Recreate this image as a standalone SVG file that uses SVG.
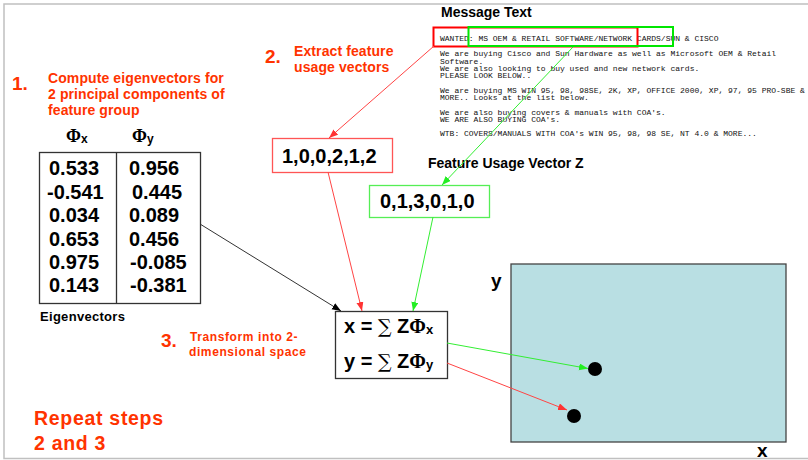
<svg xmlns="http://www.w3.org/2000/svg" width="808" height="460" viewBox="0 0 808 460">
<style>
.b{font-family:"Liberation Sans",Arial,sans-serif;font-weight:bold}
.red{fill:#ff3300}
.step{font-size:14px;letter-spacing:0.1px}
.num{font-size:19px}
.mono{font-family:"Liberation Mono","Courier New",monospace;font-size:8px;fill:#111}
.val{font-family:"Liberation Sans",Arial,sans-serif;font-weight:bold;font-size:20px;fill:#000}
.phi{font-family:"Liberation Serif","Times New Roman",serif;font-weight:bold}
.conn{fill:none;stroke-width:1}
</style>
<defs>
<marker id="ar" markerUnits="userSpaceOnUse" markerWidth="10" markerHeight="8" refX="9" refY="3.5" orient="auto"><path d="M0,0 L9,3.5 L0,7 z" fill="#ff3333"/></marker>
<marker id="ag" markerUnits="userSpaceOnUse" markerWidth="10" markerHeight="8" refX="9" refY="3.5" orient="auto"><path d="M0,0 L9,3.5 L0,7 z" fill="#22ee22"/></marker>
<marker id="ak" markerUnits="userSpaceOnUse" markerWidth="10" markerHeight="8" refX="9" refY="3.5" orient="auto"><path d="M0,0 L9,3.5 L0,7 z" fill="#000"/></marker>
</defs>
<rect x="0" y="0" width="808" height="460" fill="#fff"/>
<path d="M812,4 H4 V458.5 H812" fill="none" stroke="#c0c0c0" stroke-width="1.5"/>

<g id="message">
<text class="b" x="441" y="17" font-size="14" fill="#000">Message Text</text>
<text class="mono" x="440" y="41">WANTED: MS OEM &amp; RETAIL SOFTWARE/NETWORK CARDS/SUN &amp; CISCO</text>
<text class="mono" x="440" y="56">We are buying Cisco and Sun Hardware as well as Microsoft OEM &amp; Retail</text>
<text class="mono" x="440" y="63.5">Software.</text>
<text class="mono" x="440" y="71">We are also looking to buy used and new network cards.</text>
<text class="mono" x="440" y="78">PLEASE LOOK BELOW..</text>
<text class="mono" x="440" y="93">We are buying MS WIN 95, 98, 98SE, 2K, XP, OFFICE 2000, XP, 97, 95 PRO-SBE &amp;</text>
<text class="mono" x="440" y="100">MORE.. Looks at the list below.</text>
<text class="mono" x="440" y="115">We are also buying covers &amp; manuals with COA's.</text>
<text class="mono" x="440" y="122">WE ARE ALSO BUYING COA's.</text>
<text class="mono" x="440" y="136">WTB: COVERS/MANUALS WITH COA's WIN 95, 98, 98 SE, NT 4.0 &amp; MORE...</text>
<rect x="433.5" y="27.5" width="204" height="19" fill="none" stroke="#ff0000" stroke-width="2"/>
<rect x="468.5" y="27" width="204.5" height="19" fill="none" stroke="#00e600" stroke-width="2"/>
</g>

<g id="step1">
<text class="b red num" x="12" y="90">1.</text>
<text class="b red step" x="48" y="83">Compute eigenvectors for</text>
<text class="b red step" x="48" y="99">2 principal components of</text>
<text class="b red step" x="48" y="115">feature group</text>
</g>

<g id="eigen-table">
<text x="66" y="142"><tspan class="phi" font-size="18">Φ</tspan><tspan class="b" font-size="12" dy="1">x</tspan></text>
<text x="132" y="142"><tspan class="phi" font-size="18">Φ</tspan><tspan class="b" font-size="12" dy="1">y</tspan></text>
<rect x="39.5" y="152.5" width="161" height="151" fill="#fff" stroke="#333" stroke-width="1.3"/>
<line x1="116.5" y1="152.5" x2="116.5" y2="303.5" stroke="#333" stroke-width="1.3"/>
<text class="val" x="49" y="175">0.533</text>
<text class="val" x="47" y="198.5">-0.541</text>
<text class="val" x="49" y="222">0.034</text>
<text class="val" x="49" y="245.5">0.653</text>
<text class="val" x="49" y="269">0.975</text>
<text class="val" x="49" y="292">0.143</text>
<text class="val" x="129" y="175">0.956</text>
<text class="val" x="132" y="198.5">0.445</text>
<text class="val" x="129" y="222">0.089</text>
<text class="val" x="129" y="245.5">0.456</text>
<text class="val" x="130" y="269">-0.085</text>
<text class="val" x="130" y="292">-0.381</text>
<text class="b" x="40" y="321" font-size="13" letter-spacing="0.3" fill="#000">Eigenvectors</text>
</g>

<g id="step2">
<text class="b red num" x="265" y="63">2.</text>
<text class="b red step" x="294" y="56">Extract feature</text>
<text class="b red step" x="294" y="72">usage vectors</text>
</g>

<g id="vector1">
<rect x="272.5" y="138.5" width="120" height="34" fill="#fff" stroke="#ff5555" stroke-width="1.3"/>
<text class="val" x="282" y="163">1,0,0,2,1,2</text>
</g>

<g id="vectorZ">
<text class="b" x="428" y="168" font-size="14" fill="#000">Feature Usage Vector Z</text>
<rect x="369.5" y="185.5" width="120" height="32" fill="#fff" stroke="#55ee55" stroke-width="1.3"/>
<text class="val" x="380" y="208">0,1,3,0,1,0</text>
</g>

<g id="step3">
<text class="b red num" x="161" y="347">3.</text>
<text class="b red" x="190" y="341" font-size="12" letter-spacing="0.6">Transform into 2-</text>
<text class="b red" x="189" y="356" font-size="12" letter-spacing="0.6">dimensional space</text>
</g>

<g id="formula">
<rect x="335.5" y="311.5" width="112" height="67" fill="#fff" stroke="#333" stroke-width="1.3"/>
<text x="344" y="333"><tspan class="b" font-size="20">x = </tspan><tspan font-family="'DejaVu Serif',serif" font-size="19">∑</tspan><tspan class="b" font-size="20"> Z</tspan><tspan class="phi" font-size="20">Φ</tspan><tspan class="b" font-size="13" dy="1">x</tspan></text>
<text x="344" y="368"><tspan class="b" font-size="20">y = </tspan><tspan font-family="'DejaVu Serif',serif" font-size="19">∑</tspan><tspan class="b" font-size="20"> Z</tspan><tspan class="phi" font-size="20">Φ</tspan><tspan class="b" font-size="13" dy="1">y</tspan></text>
</g>

<g id="repeat">
<text class="b red" x="34" y="425" font-size="19.5" letter-spacing="0.7">Repeat steps</text>
<text class="b red" x="34" y="450" font-size="19.5" letter-spacing="0.7">2 and 3</text>
</g>

<g id="plot">
<rect x="511" y="264" width="275" height="178" fill="#b9dfe3" stroke="#444" stroke-width="1.3"/>
<text class="b" x="491" y="287" font-size="19" fill="#000">y</text>
<text class="b" x="757" y="457" font-size="19" fill="#000">x</text>
<circle cx="595" cy="369" r="7" fill="#000"/>
<circle cx="574" cy="416" r="7" fill="#000"/>
</g>

<g id="connectors">
<line class="conn" x1="200" y1="224" x2="341" y2="311" stroke="#333" marker-end="url(#ak)"/>
<line class="conn" x1="434" y1="46" x2="329" y2="138" stroke="#ff4444" marker-end="url(#ar)"/>
<line class="conn" x1="573" y1="47" x2="442" y2="185" stroke="#33ee33" marker-end="url(#ag)"/>
<line class="conn" x1="328" y1="172" x2="362" y2="311" stroke="#ff4444" marker-end="url(#ar)"/>
<line class="conn" x1="433" y1="217" x2="413" y2="311" stroke="#33ee33" marker-end="url(#ag)"/>
<line class="conn" x1="447" y1="343" x2="588" y2="368.5" stroke="#33ee33" marker-end="url(#ag)"/>
<line class="conn" x1="447" y1="363" x2="567" y2="410" stroke="#ff4444" marker-end="url(#ar)"/>
</g>
</svg>
